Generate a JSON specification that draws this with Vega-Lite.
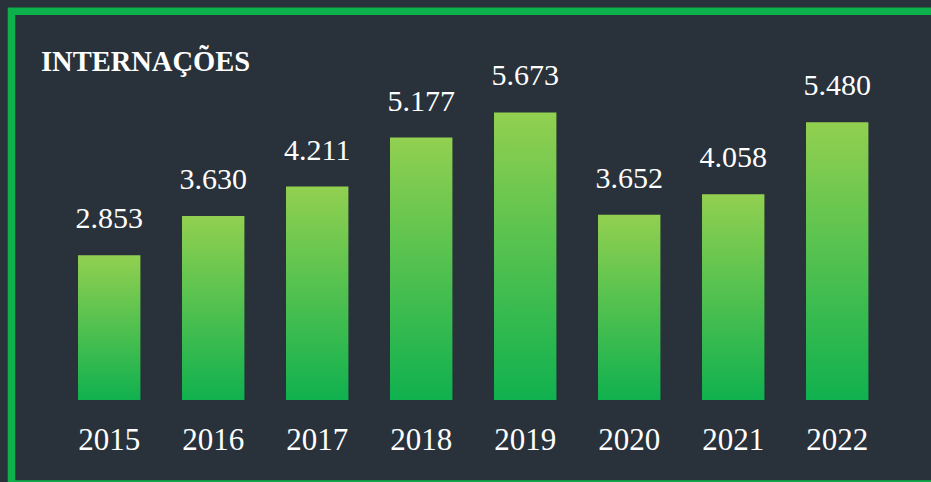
{
  "$schema": "https://vega.github.io/schema/vega-lite/v6.json",
  "width": 927.5,
  "height": 472.75,
  "autosize": {"type": "none"},
  "padding": {"left": 11.5, "top": 11.25, "right": -8, "bottom": -2},
  "background": "#29323b",
  "config": {
    "view": {"stroke": "#0db14b", "strokeWidth": 7.5},
    "font": "Liberation Serif",
    "locale": {"number": {"decimal": ",", "thousands": ".", "grouping": [3], "currency": ["R$", ""]}}
  },
  "title": {
    "text": "INTERNAÇÕES",
    "anchor": "start",
    "frame": "group",
    "orient": "top",
    "baseline": "alphabetic",
    "offset": -88.1,
    "dx": 29.5,
    "font": "Liberation Serif",
    "fontSize": 28.5,
    "fontWeight": "bold",
    "color": "#ffffff"
  },
  "data": {
    "values": [
      {"ano": "2015", "internacoes": 2853},
      {"ano": "2016", "internacoes": 3630},
      {"ano": "2017", "internacoes": 4211},
      {"ano": "2018", "internacoes": 5177},
      {"ano": "2019", "internacoes": 5673},
      {"ano": "2020", "internacoes": 3652},
      {"ano": "2021", "internacoes": 4058},
      {"ano": "2022", "internacoes": 5480}
    ]
  },
  "encoding": {
    "x": {
      "field": "ano",
      "type": "ordinal",
      "scale": {"paddingInner": 0.4, "paddingOuter": 0.6591, "align": 0.4851},
      "axis": {
        "domain": false,
        "ticks": false,
        "grid": false,
        "labelAngle": 0,
        "labelPadding": -35,
        "labelBaseline": "alphabetic",
        "labelFont": "Liberation Serif",
        "labelFontSize": 31,
        "labelColor": "#ffffff",
        "title": null
      }
    }
  },
  "layer": [
    {
      "mark": {
        "type": "bar",
        "color": {
          "gradient": "linear",
          "x1": 0, "y1": 0, "x2": 0, "y2": 1,
          "stops": [
            {"offset": 0, "color": "#92d050"},
            {"offset": 1, "color": "#10b14f"}
          ]
        }
      },
      "encoding": {
        "y": {"field": "internacoes", "type": "quantitative", "scale": {"domain": [-1657, 7668], "nice": false, "zero": false}, "axis": null},
        "y2": {"datum": 0}
      }
    },
    {
      "mark": {"type": "text", "baseline": "alphabetic", "dy": -27, "fontSize": 30, "color": "#ffffff", "font": "Liberation Serif"},
      "encoding": {
        "y": {"field": "internacoes", "type": "quantitative"},
        "text": {"field": "internacoes", "type": "quantitative", "format": ",d"}
      }
    }
  ]
}
